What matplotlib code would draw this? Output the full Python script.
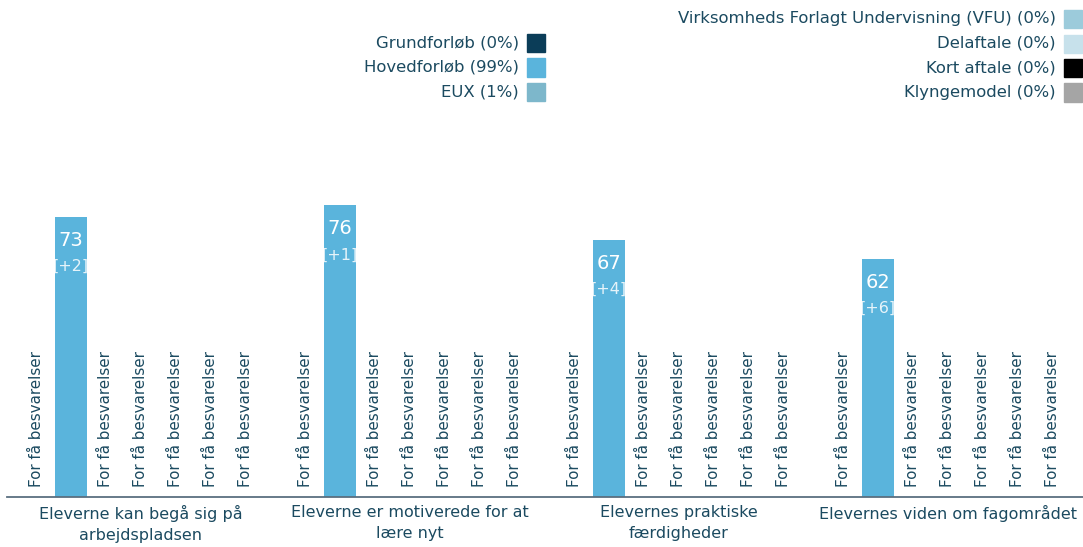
import matplotlib.pyplot as plt
import numpy as np

groups = ["Eleverne kan begå sig på\narbejdspladsen",
          "Eleverne er motiverede for at\nlære nyt",
          "Elevernes praktiske\nfærdigheder",
          "Elevernes viden om fagområdet"]
series = ["Grundforløb (0%)", "Hovedforløb (99%)", "EUX (1%)",
          "Virksomheds Forlagt Undervisning (VFU) (0%)", "Delaftale (0%)",
          "Kort aftale (0%)", "Klyngemodel (0%)"]
colors = ["#0b3d58", "#5ab4dc", "#7db7cb", "#9ccbdb", "#c7e1eb", "#000000", "#a5a5a5"]
# None = "For få besvarelser"
values = [
    [None, 73, None, None, None, None, None],
    [None, 76, None, None, None, None, None],
    [None, 67, None, None, None, None, None],
    [None, 62, None, None, None, None, None],
]
changes = [
    [None, "+2", None, None, None, None, None],
    [None, "+1", None, None, None, None, None],
    [None, "+4", None, None, None, None, None],
    [None, "+6", None, None, None, None, None],
]

txt = "#1b4a60"
fig = plt.figure(figsize=(10.83, 5.47), dpi=100)
ax = fig.add_axes([7 / 1083, 50 / 547, 1076 / 1083, 384 / 547])

gap = 7.69
for g, name in enumerate(groups):
    for s in range(len(series)):
        x = g * gap + s - 3
        v = values[g][s]
        if v is None:
            ax.text(x, 2.6, "For få besvarelser", rotation=90, ha="center", va="bottom",
                    fontsize=10.9, color=txt)
        else:
            ax.bar(x, v, width=0.94, color=colors[s])
            ax.text(x, v - 3.6, str(v), ha="center", va="top", fontsize=14, color="white")
            ax.text(x, v - 11.0, "[" + changes[g][s] + "]", ha="center", va="top",
                    fontsize=11.5, color="white", alpha=0.85)

ax.set_xlim(-3.83, 3 * gap + 3.86)
ax.set_ylim(0, 100)
ax.set_xticks([g * gap for g in range(len(groups))])
ax.set_xticklabels(groups, fontsize=11.5, color=txt, linespacing=1.45)
ax.tick_params(axis="x", length=0, pad=6)
ax.set_yticks([])
for sp in ["top", "right", "left"]:
    ax.spines[sp].set_visible(False)
ax.spines["bottom"].set_color("#5b6f80")
ax.spines["bottom"].set_linewidth(1.3)

# legends drawn as text + squares in figure pixels
def legend_item(label, color, right_x, y):
    fig.text((right_x - 8) / 1083, 1 - y / 547, label, ha="right", va="center",
             fontsize=11.85, color=txt)
    fig.patches.append(plt.Rectangle(((right_x) / 1083, 1 - (y + 9) / 547), 18 / 1083, 18 / 547,
                                     transform=fig.transFigure, color=color))

for i, s in enumerate(range(3)):
    legend_item(series[s], colors[s], 527, 43 + 24.5 * i)
for i, s in enumerate(range(3, 7)):
    legend_item(series[s], colors[s], 1064, 19 + 24.5 * i)

fig.savefig("out.png", dpi=100)
